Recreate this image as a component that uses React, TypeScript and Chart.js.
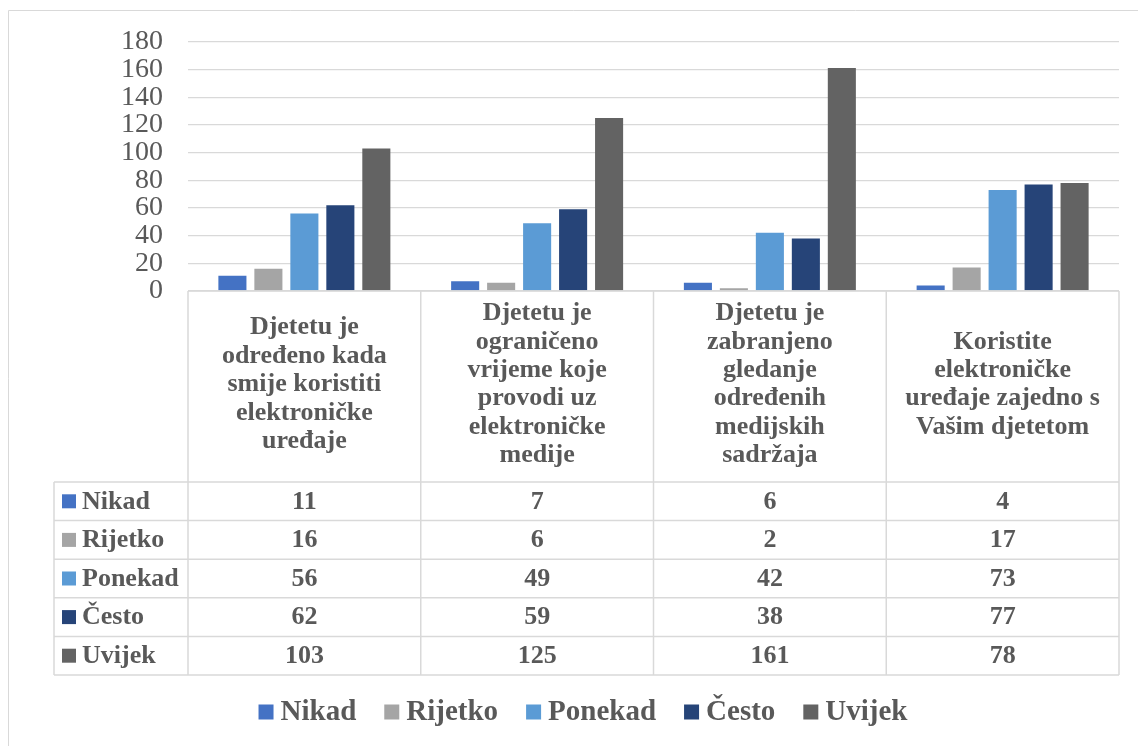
import React, { useEffect, useRef } from 'react';
import { Chart, registerables } from 'chart.js';

Chart.register(...registerables);

const categories: string[][] = [
  ['Djetetu je', 'određeno kada', 'smije koristiti', 'elektroničke', 'uređaje'],
  ['Djetetu je', 'ograničeno', 'vrijeme koje', 'provodi uz', 'elektroničke', 'medije'],
  ['Djetetu je', 'zabranjeno', 'gledanje', 'određenih', 'medijskih', 'sadržaja'],
  ['Koristite', 'elektroničke', 'uređaje zajedno s', 'Vašim djetetom'],
];

const seriesNames = ['Nikad', 'Rijetko', 'Ponekad', 'Često', 'Uvijek'];
const seriesColors = ['#4472C4', '#A5A5A5', '#5B9BD5', '#264478', '#636363'];

const nikad = [11, 7, 6, 4];
const rijetko = [16, 6, 2, 17];
const ponekad = [56, 49, 42, 73];
const cesto = [62, 59, 38, 77];
const uvijek = [103, 125, 161, 78];

const seriesValues = [nikad, rijetko, ponekad, cesto, uvijek];

const yTickLabels = [0, 20, 40, 60, 80, 100, 120, 140, 160, 180];

const FONT = "'Liberation Serif', 'Times New Roman', serif";
const TEXT = '#595959';
const LINE = '#D9D9D9';

const tablePlugin = {
  id: 'dataTableLegend',
  afterDraw(chart: any) {
    const ctx: CanvasRenderingContext2D = chart.ctx;
    const xs = chart.scales.x;
    const area = chart.chartArea;
    const n = categories.length;
    const colW = (area.right - area.left) / n;
    const top = area.bottom;
    const headerBottom = 482;
    const rowH = 38.6;
    const tableLeft = 54;
    const tableBottom = headerBottom + rowH * seriesNames.length;

    ctx.save();
    ctx.strokeStyle = LINE;
    ctx.lineWidth = 1.5;
    const line = (x1: number, y1: number, x2: number, y2: number) => {
      ctx.beginPath();
      ctx.moveTo(x1, y1);
      ctx.lineTo(x2, y2);
      ctx.stroke();
    };
    line(area.left, top, area.right, top);
    for (let r = 0; r <= seriesNames.length; r++) {
      const y = headerBottom + r * rowH;
      line(tableLeft, y, area.right, y);
    }
    for (let c = 0; c <= n; c++) {
      const x = area.left + c * colW;
      line(x, top, x, tableBottom);
    }
    line(tableLeft, headerBottom, tableLeft, tableBottom);

    // header text
    ctx.fillStyle = TEXT;
    ctx.font = `bold 26px ${FONT}`;
    ctx.textAlign = 'center';
    ctx.textBaseline = 'middle';
    const mid = 384.5;
    const lh = 28.4;
    categories.forEach((lines, i) => {
      const cx = xs.getPixelForValue(i);
      lines.forEach((l, j) => {
        ctx.fillText(l, cx, mid + (j - (lines.length - 1) / 2) * lh);
      });
    });

    // rows
    seriesNames.forEach((name, r) => {
      const cy = headerBottom + r * rowH + rowH / 2;
      ctx.fillStyle = seriesColors[r];
      ctx.fillRect(62, cy - 7, 14, 14);
      ctx.fillStyle = TEXT;
      ctx.textAlign = 'left';
      ctx.fillText(name, 82, cy + 0.5);
      ctx.textAlign = 'center';
      seriesValues[r].forEach((v, i) => {
        ctx.fillText(String(v), xs.getPixelForValue(i), cy + 0.5);
      });
    });

    // legend
    ctx.font = `bold 29px ${FONT}`;
    ctx.textAlign = 'left';
    const box = 15;
    const gap = 7;
    const itemGap = 28;
    const widths = seriesNames.map((s) => ctx.measureText(s).width);
    const total = widths.reduce((a, w) => a + box + gap + w, 0) + itemGap * (seriesNames.length - 1);
    let lx = 583 - total / 2;
    const ly = 712;
    seriesNames.forEach((name, i) => {
      ctx.fillStyle = seriesColors[i];
      ctx.fillRect(lx, ly - box / 2, box, box);
      ctx.fillStyle = TEXT;
      ctx.fillText(name, lx + box + gap, ly + 1);
      lx += box + gap + widths[i] + itemGap;
    });

    // outer border
    ctx.strokeStyle = LINE;
    ctx.lineWidth = 1;
    line(8.5, 10.5, 8.5, 746);
    line(8.5, 10.5, 1138, 10.5);
    ctx.restore();
  },
};

export default function App() {
  const ref = useRef<HTMLCanvasElement | null>(null);

  useEffect(() => {
    if (!ref.current) return;
    const chart = new Chart(ref.current, {
      type: 'bar',
      data: {
        labels: categories.map((c) => c.join(' ')),
        datasets: seriesNames.map((name, i) => ({
          label: name,
          data: seriesValues[i],
          backgroundColor: seriesColors[i],
          borderWidth: 0,
          categoryPercentage: 0.773,
          barPercentage: 0.78,
        })),
      },
      options: {
        responsive: false,
        animation: false,
        devicePixelRatio: 1,
        layout: { padding: { top: 39, right: 19, bottom: 455, left: 0 }, autoPadding: false },
        plugins: {
          legend: { display: false },
          tooltip: { enabled: false },
        },
        scales: {
          x: { display: false },
          y: {
            min: 0,
            max: 180,
            afterBuildTicks: (s: any) => {
              s.ticks = yTickLabels.map((v) => ({ value: v }));
            },
            afterFit: (s: any) => {
              s.width = 188;
            },
            border: { display: false },
            grid: { color: LINE, lineWidth: 1.3, drawTicks: false },
            ticks: {
              autoSkip: false,
              padding: 25,
              color: TEXT,
              font: { family: FONT, size: 28 },
            },
          },
        },
      },
      plugins: [tablePlugin],
    });
    return () => chart.destroy();
  }, []);

  return (
    <div style={{ position: 'fixed', left: 0, top: 0, width: 1138, height: 746, background: '#fff' }}>
      <canvas ref={ref} width={1138} height={746} style={{ display: 'block' }} />
    </div>
  );
}
